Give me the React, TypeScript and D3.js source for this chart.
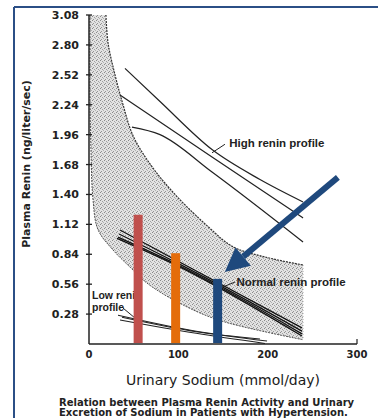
import React from "react";
import * as d3 from "d3";

// Plasma renin vs urinary sodium (Laragh style nomogram)
const yTicks = [0.28, 0.56, 0.84, 1.12, 1.4, 1.68, 1.96, 2.24, 2.52, 2.8, 3.08];
const xTicks = [0, 100, 200, 300];

// outer (upper) edge of the shaded band  [sodium, renin]
const bandUpper: [number, number][] = [
  [19, 3.08], [21.3, 2.82], [29.1, 2.52], [38.1, 2.24], [49.3, 1.95],
  [70.5, 1.66], [98.5, 1.38], [133.2, 1.1], [161.2, 0.91], [199.3, 0.81], [239.6, 0.74],
];
// inner (lower) edge of the shaded band
const bandLower: [number, number][] = [
  [1.1, 3.08], [1.1, 2.28], [2.2, 1.82], [4.5, 1.35], [10.1, 1.07], [26.9, 0.88],
  [45.9, 0.72], [64.9, 0.57], [101.9, 0.38], [146.6, 0.22], [239.6, 0.04],
];

const highRenin: [number, number][][] = [
  [[40.3, 2.58], [79.5, 2.27], [137.7, 1.82], [191.4, 1.54], [239.6, 1.33]],
  [[34.7, 2.33], [137.7, 1.75], [239.6, 1.18]],
  [[48.1, 2.03], [79.5, 1.96], [137.7, 1.61], [239.6, 0.955]],
];
const normalRenin: [number, number][][] = [
  [[34.7, 1.067], [101.9, 0.765], [238.4, 0.15]],
  [[33.6, 1.03], [101.9, 0.745], [238.4, 0.12]],
  [[32.5, 1.0], [101.9, 0.73], [238.4, 0.095]],
  [[31.3, 0.99], [101.9, 0.72], [238.4, 0.075]],
];
const lowRenin: [number, number][][] = [
  [[32.5, 0.27], [120, 0.12], [199.3, 0.028]],
  [[36.9, 0.25], [120, 0.115], [191.4, 0.047]],
  [[34.7, 0.225], [120, 0.1], [197, 0.005]],
];

// highlighted sodium intakes
const barSodium = [55, 97, 144];
const barRenin = [1.21, 0.85, 0.61];
const barColors = ["#c0504d", "#e46c0a", "#1f497d"];

const arrowFrom: [number, number] = [278.6, 1.56];
const arrowTo: [number, number] = [152, 0.674];

export default function App() {
  const width = 378;
  const height = 418;
  const x = d3.scaleLinear().domain([0, 300]).range([89, 357]);
  const y = d3.scaleLinear().domain([0, 3.08]).range([344, 15]);

  // band edges (catmull-rom, the inner edge is vertical at the top)
  const edge = d3
    .line<[number, number]>()
    .x((d) => x(d[0]))
    .y((d) => y(d[1]))
    .curve(d3.curveCatmullRom.alpha(0.5));
  // profile lines
  const line = d3
    .line<[number, number]>()
    .x((d) => x(d[0]))
    .y((d) => y(d[1]))
    .curve(d3.curveMonotoneX);

  const bandPath =
    edge(bandUpper) + edge([...bandLower].reverse())!.replace(/^M/, "L") + "Z";

  // arrow geometry
  const [sx, sy] = [x(arrowFrom[0]), y(arrowFrom[1])];
  const [tx, ty] = [x(arrowTo[0]), y(arrowTo[1])];
  const len = Math.hypot(tx - sx, ty - sy);
  const ux = (tx - sx) / len, uy = (ty - sy) / len;
  const headL = 24, headW = 12;
  const bx = tx - ux * headL, by = ty - uy * headL;
  const head = `M${tx},${ty}L${bx + uy * headW},${by - ux * headW}L${bx - uy * headW},${by + ux * headW}Z`;

  const tickFont = "'DejaVu Sans', sans-serif";
  const noteFont = "'Liberation Sans', Arial, sans-serif";

  return (
    <svg
      width={width}
      height={height}
      style={{ position: "absolute", left: 0, top: 0, background: "#fff" }}
    >
      <defs>
        <pattern id="stipple" width={4} height={4} patternUnits="userSpaceOnUse">
          <rect width={4} height={4} fill="#e2e2e2" />
          <rect x={0} y={0} width={1} height={1} fill="#8a8a8a" />
          <rect x={2} y={1} width={1} height={1} fill="#a0a0a0" />
          <rect x={1} y={3} width={1} height={1} fill="#959595" />
          <rect x={3} y={2} width={1} height={1} fill="#b0b0b0" />
        </pattern>
      </defs>

      {/* frame */}
      <line x1={14} y1={7} x2={378} y2={7} stroke="#2b4f86" strokeWidth={2} />
      <line x1={14} y1={7} x2={14} y2={418} stroke="#2b4f86" strokeWidth={2} />

      {/* shaded band */}
      <path d={bandPath} fill="url(#stipple)" />
      <path d={edge(bandUpper)!} fill="none" stroke="#333" strokeWidth={1.2} strokeDasharray="2,1" />
      <path d={edge(bandLower)!} fill="none" stroke="#555" strokeWidth={1} strokeDasharray="2,1" />
      <line x1={x(239.6)} x2={x(239.6)} y1={y(0.74)} y2={y(0.04)} stroke="#aaa" strokeWidth={1} strokeDasharray="1,2" />

      {/* profile lines */}
      {highRenin.map((d, i) => (
        <path key={"h" + i} d={line(d)!} fill="none" stroke="#222" strokeWidth={1.2} />
      ))}
      {normalRenin.map((d, i) => (
        <path key={"n" + i} d={line(d)!} fill="none" stroke="#111" strokeWidth={1.3} />
      ))}
      {lowRenin.map((d, i) => (
        <path key={"l" + i} d={line(d)!} fill="none" stroke="#222" strokeWidth={1.1} />
      ))}

      {/* axes */}
      <line x1={x(0)} x2={x(0)} y1={y(3.08)} y2={y(0)} stroke="#222" strokeWidth={1.5} />
      <line x1={x(0)} x2={x(300)} y1={y(0)} y2={y(0)} stroke="#222" strokeWidth={1.5} />
      <line x1={x(300)} x2={x(300)} y1={y(0)} y2={y(0) - 5} stroke="#222" strokeWidth={1.2} />
      {yTicks.map((t) => (
        <g key={t}>
          <line x1={x(0) - 3} x2={x(0) + 3} y1={y(t)} y2={y(t)} stroke="#222" strokeWidth={1.3} />
          <text
            x={79}
            y={y(t)}
            dy="0.36em"
            textAnchor="end"
            fontFamily={tickFont}
            fontWeight="bold"
            fontSize={11}
            fill="#222"
          >
            {t.toFixed(2)}
          </text>
        </g>
      ))}
      {xTicks.map((t) => (
        <text
          key={t}
          x={x(t)}
          y={358}
          textAnchor="middle"
          fontFamily={tickFont}
          fontWeight="bold"
          fontSize={10}
          fill="#222"
        >
          {t}
        </text>
      ))}

      <text
        transform="translate(30,164) rotate(-90)"
        textAnchor="middle"
        fontFamily={tickFont}
        fontWeight="bold"
        fontSize={11}
        fill="#222"
      >
        Plasma Renin (ng/liter/sec)
      </text>
      <text x={223} y={385} textAnchor="middle" fontFamily={tickFont} fontSize={14} fill="#1a1a1a">
        Urinary Sodium (mmol/day)
      </text>

      {/* annotations */}
      <line x1={x(137.7)} y1={y(1.79)} x2={x(152.2)} y2={y(1.87)} stroke="#222" />
      <text x={x(157)} y={y(1.845)} fontFamily={noteFont} fontWeight="bold" fontSize={11.5} fill="#222">
        High renin profile
      </text>
      <line x1={x(150)} y1={y(0.534)} x2={x(163.4)} y2={y(0.58)} stroke="#222" />
      <text x={x(165)} y={y(0.543)} fontFamily={noteFont} fontWeight="bold" fontSize={11.5} fill="#222">
        Normal renin profile
      </text>
      <line x1={x(38)} y1={y(0.337)} x2={x(51.5)} y2={y(0.243)} stroke="#222" />
      <text x={x(3.4)} y={y(0.42)} fontFamily={noteFont} fontWeight="bold" fontSize={10.5} fill="#222">
        Low renin
      </text>
      <text x={x(3.4)} y={y(0.31)} fontFamily={noteFont} fontWeight="bold" fontSize={10.5} fill="#222">
        profile
      </text>

      {/* highlighted bars */}
      {barSodium.map((s, i) => (
        <rect
          key={s}
          x={x(s) - 4.5}
          y={y(barRenin[i])}
          width={9}
          height={y(0) - y(barRenin[i]) - 1}
          fill={barColors[i]}
        />
      ))}

      {/* arrow */}
      <line x1={sx} y1={sy} x2={bx} y2={by} stroke="#1f497d" strokeWidth={6} />
      <path d={head} fill="#1f497d" />

      {/* caption */}
      <text fontFamily={tickFont} fontWeight="bold" fontSize={10} fill="#222">
        <tspan x={59} y={406}>Relation between Plasma Renin Activity and Urinary</tspan>
        <tspan x={59} y={416}>Excretion of Sodium in Patients with Hypertension.</tspan>
      </text>
    </svg>
  );
}
